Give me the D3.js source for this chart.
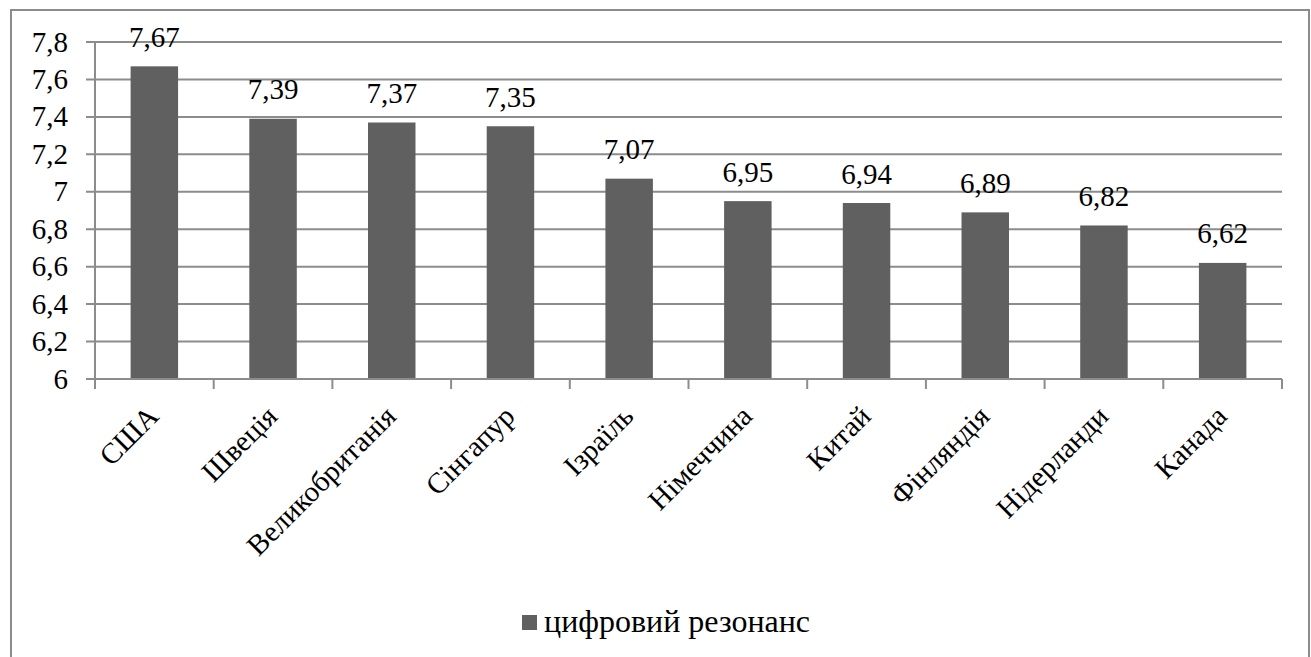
<!DOCTYPE html>
<html>
<head>
<meta charset="utf-8">
<script src="https://cdnjs.cloudflare.com/ajax/libs/d3/7.8.5/d3.min.js"></script>
<style>
  body { margin: 0; background: #fff; }
  svg text { font-family: "Liberation Serif", Tinos, "Times New Roman", serif !important; }
</style>
</head>
<body>
<div id="chart"></div>
<script>
const countries = ['США', 'Швеція', 'Великобританія', 'Сінгапур', 'Ізраїль', 'Німеччина', 'Китай', 'Фінляндія', 'Нідерланди', 'Канада'];
const values = [7.67, 7.39, 7.37, 7.35, 7.07, 6.95, 6.94, 6.89, 6.82, 6.62];
const yTicks = [6, 6.2, 6.4, 6.6, 6.8, 7, 7.2, 7.4, 7.6, 7.8];
const seriesName = 'цифровий резонанс';

const width = 1311;
const height = 657;
const plot = { left: 95, right: 1282, top: 42, bottom: 379 };
const gridColor = '#8c8c8c';
const barColor = '#606060';
const font = '"Liberation Serif", Tinos, "Times New Roman", serif';

const fmt = v => String(v).replace('.', ',');

const svg = d3.select('#chart')
    .append('svg')
    .attr('width', width)
    .attr('height', height)
    .style('font-family', font);

// chart border
svg.append('rect')
    .attr('x', 11)
    .attr('y', 10)
    .attr('width', 1298)
    .attr('height', 680)
    .attr('fill', 'none')
    .attr('stroke', gridColor)
    .attr('stroke-width', 2);

const xScale = d3.scaleBand()
    .domain(countries)
    .range([plot.left, plot.right])
    .paddingInner(0.6)
    .paddingOuter(0.3);

const yScale = d3.scaleLinear()
    .domain([6, 7.8])
    .range([plot.bottom, plot.top]);

// gridlines + y tick marks
svg.append('g')
    .selectAll('line')
    .data(yTicks)
    .enter()
    .append('line')
    .attr('x1', plot.left - 9)
    .attr('x2', plot.right)
    .attr('y1', d => yScale(d))
    .attr('y2', d => yScale(d))
    .attr('stroke', gridColor)
    .attr('stroke-width', 2);

// y labels
svg.append('g')
    .selectAll('text')
    .data(yTicks)
    .enter()
    .append('text')
    .attr('x', 68)
    .attr('y', d => yScale(d) + 9.5)
    .attr('text-anchor', 'end')
    .style('font-family', font)
    .style('font-size', '29px')
    .style('fill', '#000')
    .text(d => fmt(d));

// y axis line
svg.append('line')
    .attr('x1', plot.left).attr('x2', plot.left)
    .attr('y1', plot.top).attr('y2', plot.bottom)
    .attr('stroke', gridColor)
    .attr('stroke-width', 2);

// x tick marks at category boundaries
const step = xScale.step();
const edges = countries.map(c => xScale(c) - (step - xScale.bandwidth()) / 2).concat([plot.right]);
svg.append('g')
    .selectAll('line')
    .data(edges)
    .enter()
    .append('line')
    .attr('x1', d => d).attr('x2', d => d)
    .attr('y1', plot.bottom)
    .attr('y2', plot.bottom + 10)
    .attr('stroke', gridColor)
    .attr('stroke-width', 2);

// bars
svg.append('g')
    .selectAll('rect')
    .data(values)
    .enter()
    .append('rect')
    .attr('x', (d, i) => xScale(countries[i]))
    .attr('y', d => yScale(d))
    .attr('width', xScale.bandwidth())
    .attr('height', d => yScale(6) - yScale(d))
    .attr('fill', barColor);

// value labels
svg.append('g')
    .selectAll('text')
    .data(values)
    .enter()
    .append('text')
    .attr('x', (d, i) => xScale(countries[i]) + xScale.bandwidth() / 2)
    .attr('y', d => yScale(d) - 19.5)
    .attr('text-anchor', 'middle')
    .style('font-family', font)
    .style('font-size', '29px')
    .style('fill', '#000')
    .text(d => fmt(d));

// x axis line
svg.append('line')
    .attr('x1', plot.left).attr('x2', plot.right)
    .attr('y1', plot.bottom).attr('y2', plot.bottom)
    .attr('stroke', gridColor)
    .attr('stroke-width', 2);

// rotated category labels
svg.append('g')
    .selectAll('text')
    .data(countries)
    .enter()
    .append('text')
    .attr('transform', d => `translate(${xScale(d) + xScale.bandwidth() / 2 + 6},${plot.bottom + 39}) rotate(-45)`)
    .attr('text-anchor', 'end')
    .style('font-family', font)
    .style('font-size', '29px')
    .style('fill', '#000')
    .text(d => d);

// legend
const legend = svg.append('g')
    .attr('transform', 'translate(522, 615)');
legend.append('rect')
    .attr('width', 15)
    .attr('height', 15)
    .attr('fill', barColor);
legend.append('text')
    .attr('x', 22)
    .attr('y', 17)
    .style('font-family', font)
    .style('font-size', '32px')
    .style('fill', '#000')
    .text(seriesName);
</script>
</body>
</html>
